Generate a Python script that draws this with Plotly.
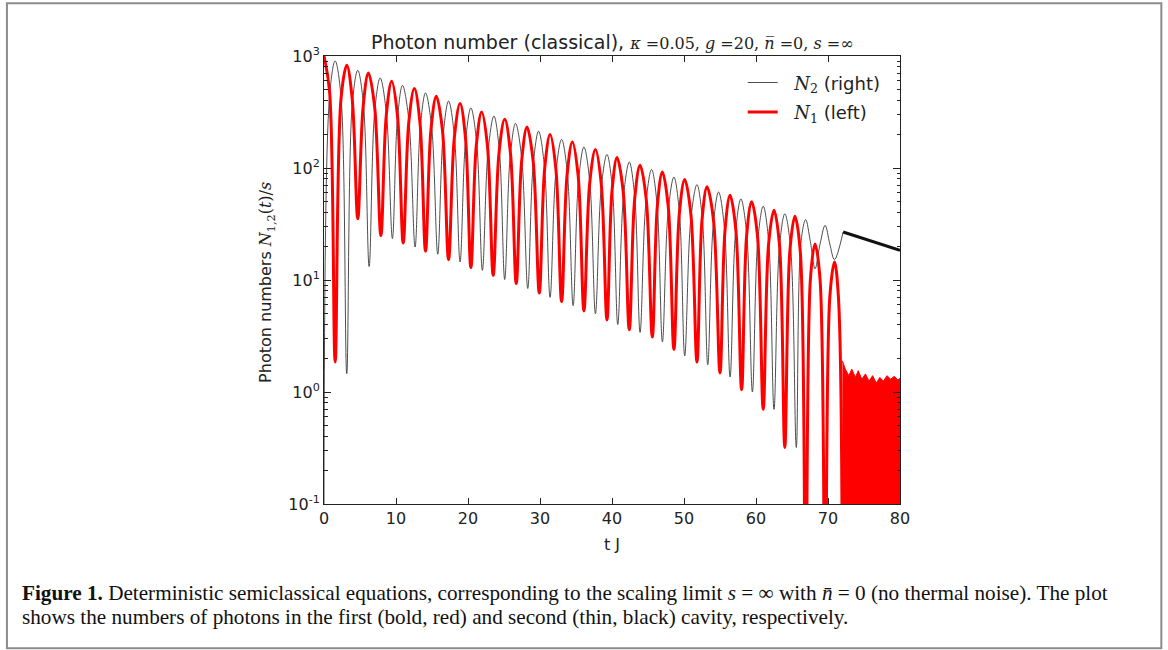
import plotly.graph_objects as go

# ---------------- data ----------------
# N1 (left cavity, bold red): local maxima, their half-height shoulders, and minima
red_peak_t = [0.0, 3.16, 6.17, 9.4, 12.55, 15.6, 18.9, 21.9, 25.1, 28.2, 31.4, 34.5,
              37.7, 40.7, 43.9, 47.0, 50.1, 53.2, 56.4, 59.4, 62.5, 65.4, 68.2, 70.9]
red_peak_v = [1000, 826, 705, 594, 512, 437, 376, 316, 272, 232, 199, 171,
              146, 124, 106, 92, 79, 68, 57, 50, 42, 37, 21, 14.5]
red_shoulder_v = [480, 410, 350, 295, 255, 218, 186, 158, 135, 115, 99, 85,
                  73, 62, 53, 46, 39, 34, 28, 25, 21, 18, 10, 7]
red_trough_t = [1.55, 4.69, 7.9, 11.0, 14.1, 17.3, 20.4, 23.5, 26.7, 29.9, 33.0, 36.1,
                39.3, 42.4, 45.6, 48.6, 51.8, 55.0, 58.0, 61.0, 64.0, 66.9, 69.6, 72.0]
red_trough_v = [1.85, 35.3, 25, 21.4, 18.1, 15.2, 12.9, 11.0, 9.3, 7.65, 6.4, 5.3,
                4.4, 3.6, 3.1, 2.4, 1.85, 1.48, 1.05, 0.70, 0.32, 0.01, 0.01, 0.01]

# N1 fast-oscillation region after t ~ 72 (upper envelope)
red_noise_t = [72.0, 72.4, 72.9, 73.3, 73.8, 74.2, 74.7, 75.2, 75.7, 76.2, 76.7,
               77.2, 77.7, 78.2, 78.7, 79.2, 79.7, 80.0]
red_noise_top = [1.9, 1.6, 1.4, 1.6, 1.35, 1.55, 1.3, 1.45, 1.25, 1.4, 1.2,
                 1.35, 1.25, 1.4, 1.3, 1.38, 1.28, 1.32]

# N2 (right cavity, thin black): local maxima, shoulders, minima
black_peak_t = [1.55, 4.69, 7.8, 10.9, 14.1, 17.3, 20.4, 23.6, 26.6, 29.8, 33.0, 36.1,
                39.3, 42.4, 45.5, 48.6, 51.8, 54.8, 57.9, 61.0, 64.0, 66.9, 69.6]
black_peak_v = [902, 745, 637, 547, 468, 396, 344, 291, 250, 213, 180, 154,
                132, 113, 97, 83, 71, 61, 53, 45.5, 39, 34.6, 30.8]
black_shoulder_v = [440, 370, 315, 272, 232, 197, 170, 145, 124, 106, 90, 77,
                    66, 56, 48, 41, 35, 30, 26, 22.5, 19.5, 22, 21]
black_trough_t = [0.0, 3.16, 6.27, 9.5, 12.65, 15.8, 18.9, 22.0, 25.1, 28.3, 31.4, 34.6,
                  37.7, 40.8, 43.9, 47.0, 50.1, 53.3, 56.4, 59.5, 62.5, 65.6, 68.2, 70.9]
black_trough_v = [0.01, 1.46, 13.2, 23.4, 19.7, 17.0, 14.5, 12.2, 10.1, 8.4, 7.0, 5.9,
                  5.0, 4.0, 3.4, 2.8, 2.1, 1.75, 1.36, 1.0, 0.7, 0.32, 12.6, 15.2]

# N2 slow decay after t ~ 72
black_tail_t = [72.1, 74.0, 76.0, 78.0, 80.0]
black_tail_v = [26.8, 24.5, 22.3, 20.3, 18.4]

x_tick_vals = [0, 10, 20, 30, 40, 50, 60, 70, 80]
y_tick_vals = [0.1, 1, 10, 100, 1000]
y_tick_text = ["10<sup>-1</sup>", "10<sup>0</sup>", "10<sup>1</sup>", "10<sup>2</sup>", "10<sup>3</sup>"]

# ---------------- build the sequences (peak / shoulder / trough order) ----------------
red_x, red_y = [], []
for i in range(len(red_peak_t)):
    if i > 0:
        red_x.append((red_trough_t[i - 1] + red_peak_t[i]) / 2); red_y.append(red_shoulder_v[i])
    red_x.append(red_peak_t[i]); red_y.append(red_peak_v[i])
    red_x.append((red_peak_t[i] + red_trough_t[i]) / 2); red_y.append(red_shoulder_v[i])
    red_x.append(red_trough_t[i]); red_y.append(red_trough_v[i])

black_x, black_y = [], []
for i in range(len(black_trough_t)):
    black_x.append(black_trough_t[i]); black_y.append(black_trough_v[i])
    if i < len(black_peak_t):
        black_x.append((black_trough_t[i] + black_peak_t[i]) / 2); black_y.append(black_shoulder_v[i])
        black_x.append(black_peak_t[i]); black_y.append(black_peak_v[i])
        black_x.append((black_peak_t[i] + black_trough_t[i + 1]) / 2); black_y.append(black_shoulder_v[i])
black_x.append(black_tail_t[0]); black_y.append(black_tail_v[0])

noise_x = red_noise_t + [red_noise_t[-1], red_noise_t[0]]
noise_y = red_noise_top + [0.01, 0.01]

# ---------------- geometry (pixels) ----------------
W, H = 1168, 650
L, R, T, B = 323.5, 900.3, 55.7, 503.7
pw, ph = R - L, B - T


def px(x):
    return (x - L) / pw


def py(y):
    return (B - y) / ph


SERIF_M = "DejaVu Serif"
SANS = "DejaVu Sans"

fig = go.Figure()
fig.add_trace(go.Scatter(
    x=black_x, y=black_y, mode="lines", line=dict(color="#3a3a3a", width=0.9, shape="spline"),
    name=f"&nbsp;&nbsp;<span style='font-family:{SERIF_M}'><i>N</i><sub>2</sub></span> (right)",
    legendgroup="a"))
fig.add_trace(go.Scatter(
    x=black_tail_t, y=black_tail_v, mode="lines", line=dict(color="#111111", width=3),
    showlegend=False, legendgroup="a"))
fig.add_trace(go.Scatter(
    x=noise_x, y=noise_y, mode="lines", fill="toself", fillcolor="#ff0000",
    line=dict(color="#ff0000", width=1), showlegend=False))
fig.add_trace(go.Scatter(
    x=red_x, y=red_y, mode="lines", line=dict(color="#ff0000", width=3, shape="spline"),
    name=f"&nbsp;&nbsp;<span style='font-family:{SERIF_M}'><i>N</i><sub>1</sub></span> (left)",
    legendgroup="b"))

axis_common = dict(showline=True, linecolor="#222", linewidth=1, mirror="allticks",
                   ticks="inside", tickcolor="#222", showgrid=False, zeroline=False,
                   tickfont=dict(family=SANS, size=16, color="#222"))

fig.update_xaxes(range=[0, 80], tickvals=x_tick_vals, ticklen=6, **axis_common)
fig.update_yaxes(type="log", range=[-1, 3], tickvals=y_tick_vals, ticktext=y_tick_text,
                 ticklen=7,
                 minor=dict(ticks="inside", ticklen=3.5, dtick="D1", tickcolor="#222", showgrid=False),
                 **axis_common)

title_text = ("Photon number (classical), "
              f"<span style='font-family:{SERIF_M};font-size:16px'><i>κ</i> =0.05, <i>g</i> =20, "
              "<i>n̅</i> =0, <i>s</i> =∞</span>")

annotations = [
    dict(text=title_text, x=0.5, y=py(42), xref="paper", yref="paper", showarrow=False,
         xanchor="center", yanchor="middle", font=dict(family=SANS, size=19, color="#222")),
    dict(text="t J", x=0.5, y=py(544), xref="paper", yref="paper", showarrow=False,
         xanchor="center", yanchor="middle", font=dict(family=SANS, size=16, color="#222")),
    dict(text=f"Photon numbers <span style='font-family:{SERIF_M}'><i>N</i><sub>1,2</sub>(<i>t</i>)/<i>s</i></span>",
         x=px(266), y=py(282), xref="paper", yref="paper", showarrow=False, textangle=-90,
         xanchor="center", yanchor="middle", font=dict(family=SANS, size=16, color="#222")),
    dict(text="<b>Figure 1.</b> Deterministic semiclassical equations, corresponding to the scaling limit "
              "<i>s</i> = ∞ with <i>n̄</i> = 0 (no thermal noise). The plot",
         x=px(19), y=py(593), xref="paper", yref="paper", showarrow=False,
         xanchor="left", yanchor="middle", font=dict(family="Liberation Serif", size=21.2, color="#111")),
    dict(text="shows the numbers of photons in the first (bold, red) and second (thin, black) cavity, respectively.",
         x=px(19), y=py(617), xref="paper", yref="paper", showarrow=False,
         xanchor="left", yanchor="middle", font=dict(family="Liberation Serif", size=21.2, color="#111")),
]

shapes = [dict(type="rect", xref="paper", yref="paper", x0=px(6), x1=px(1162), y0=py(3), y1=py(648),
               line=dict(color="#8c8c8c", width=2), layer="below")]

fig.update_layout(
    width=W, height=H, autosize=False,
    margin=dict(l=L, r=W - R, t=T, b=H - B, pad=0),
    paper_bgcolor="white", plot_bgcolor="white",
    showlegend=True,
    legend=dict(x=px(886), y=py(64), xanchor="right", yanchor="top", bgcolor="rgba(0,0,0,0)",
                font=dict(family=SANS, size=18, color="#222"), tracegroupgap=3, itemwidth=30),
    annotations=annotations, shapes=shapes,
)

fig.write_html("out.html", config={"displayModeBar": False},
               post_script="document.body.style.margin='0';")
